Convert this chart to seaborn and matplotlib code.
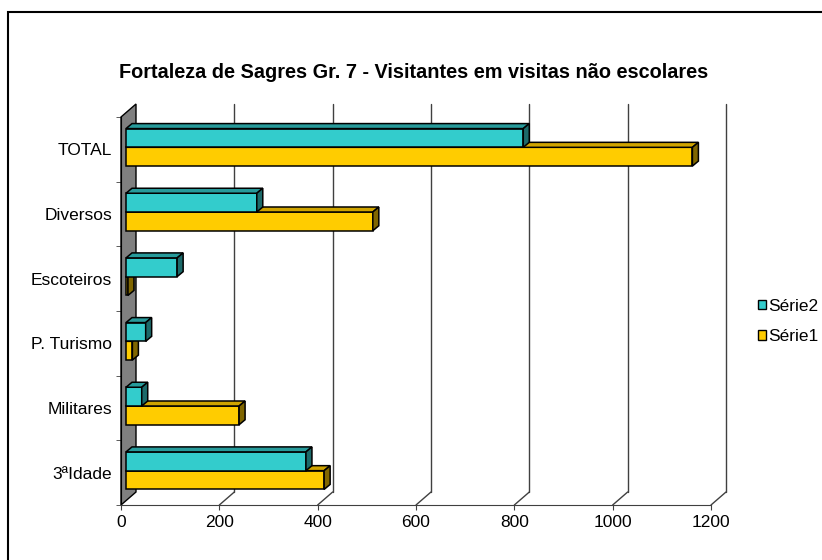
import numpy as np
import pandas as pd
import matplotlib.pyplot as plt
import seaborn as sns
from matplotlib.patches import Polygon, Rectangle, Patch
from matplotlib.colors import to_hex

# dados
categorias = ['TOTAL', 'Diversos', 'Escoteiros', 'P. Turismo', 'Militares', '3ªIdade']
serie1 = [1152, 502, 4, 13, 230, 403]
serie2 = [808, 266, 104, 40, 32, 366]
ticks_x = [0, 200, 400, 600, 800, 1000, 1200]
titulo = 'Fortaleza de Sagres Gr. 7 - Visitantes em visitas não escolares'

df = pd.DataFrame({
    'cat': categorias * 2,
    'valor': serie2 + serie1,
    'serie': ['Série2'] * len(categorias) + ['Série1'] * len(categorias),
})

# cores: frente, topo, lado
cores = {
    'Série2': ('#33CCCC', '#279B9B', '#1C6A6A'),
    'Série1': ('#FFCC00', '#CFA400', '#806600'),
}

sns.set_style('white')
plt.rcParams['font.family'] = ['Liberation Sans', 'DejaVu Sans']
plt.rcParams['text.color'] = 'black'
plt.rcParams['xtick.labelcolor'] = 'black'
plt.rcParams['ytick.labelcolor'] = 'black'

W, H = 822, 560
fig = plt.figure(figsize=(W / 100, H / 100), dpi=100)
ax = fig.add_axes([121 / W, 55 / H, 590 / W, 388 / H])

sns.barplot(data=df, y='cat', x='valor', hue='serie', order=categorias,
            hue_order=['Série2', 'Série1'],
            palette=[cores['Série2'][0], cores['Série1'][0]],
            orient='h', width=0.58, saturation=1, legend=False,
            edgecolor='black', linewidth=1.1, ax=ax)

ax.set_xlim(0, 1200)
ax.set_ylim(5.5, -0.5)

# conversao de pixeis para unidades de dados
sx = 1200 / 590
sy = 6 / 388
DX, DY = 15 * sx, 13 * sy      # profundidade da parede
bx, by = 6 * sx, 5 * sy        # profundidade das barras

for bar in list(ax.patches):
    cor = to_hex(bar.get_facecolor()).upper()
    serie = 'Série2' if cor == cores['Série2'][0] else 'Série1'
    z = 4 if serie == 'Série2' else 3
    x0 = bar.get_x() + 5 * sx
    yt = bar.get_y() - 2 * sy
    w, h = bar.get_width(), bar.get_height()
    bar.set_x(x0)
    bar.set_y(yt)
    bar.set_zorder(z)
    x1, yb = x0 + w, yt + h
    topo = Polygon([(x0, yt), (x1, yt), (x1 + bx, yt - by), (x0 + bx, yt - by)],
                   closed=True, facecolor=cores[serie][1], edgecolor='black',
                   linewidth=1.1, zorder=z, clip_on=False)
    lado = Polygon([(x1, yt), (x1, yb), (x1 + bx, yb - by), (x1 + bx, yt - by)],
                   closed=True, facecolor=cores[serie][2], edgecolor='black',
                   linewidth=1.1, zorder=z, clip_on=False)
    ax.add_patch(topo)
    ax.add_patch(lado)

# parede cinzenta
parede = Polygon([(0, 5.5), (DX, 5.5 - DY), (DX, -0.5 - DY), (0, -0.5)],
                 closed=True, facecolor='#808080', edgecolor='black',
                 linewidth=1, zorder=1, clip_on=False)
ax.add_patch(parede)

# grelha na parede do fundo e linhas do chao
for xv in ticks_x[1:]:
    ax.plot([xv + DX, xv + DX], [5.5 - DY, -0.5 - DY], color='#404040',
            lw=1, zorder=1, clip_on=False)
    ax.plot([xv, xv + DX], [5.5, 5.5 - DY], color='#404040',
            lw=1, zorder=1, clip_on=False)

ax.set_xticks(ticks_x)
ax.set_yticks(range(len(categorias)), categorias)
ax.set_yticks(np.arange(-0.5, len(categorias), 1), minor=True)
ax.tick_params(axis='y', which='major', length=0, pad=6.5, labelsize=12.5)
ax.tick_params(axis='y', which='minor', length=3.5, left=True, color='#404040')
ax.tick_params(axis='x', length=3.6, pad=3.6, labelsize=12.5, bottom=True,
               color='#404040')
ax.set_xlabel('')
ax.set_ylabel('')
ax.spines[['top', 'right']].set_visible(False)
ax.spines['bottom'].set_color('#404040')
ax.spines['left'].set_color('black')
ax.patch.set_alpha(0)

handles = [Patch(facecolor=cores['Série2'][0], edgecolor='black', linewidth=1),
           Patch(facecolor=cores['Série1'][0], edgecolor='black', linewidth=1)]
fig.legend(handles, ['Série2', 'Série1'], loc='upper left',
           bbox_to_anchor=(758 / W, 1 - 299 / H), frameon=False,
           fontsize=12.5, handlelength=0.45, handleheight=0.45,
           handletextpad=0.15, labelspacing=0.88, borderpad=0,
           borderaxespad=0)

fig.text(414 / W, 1 - 72 / H, titulo, ha='center', va='center',
         fontsize=14.3, fontweight='bold')

fig.add_artist(Rectangle((8 / W, -0.1), 1.2, 1.1 - 12 / H,
                         transform=fig.transFigure, fill=False,
                         edgecolor='black', linewidth=1.5))

fig.savefig('out.png', dpi=100)
